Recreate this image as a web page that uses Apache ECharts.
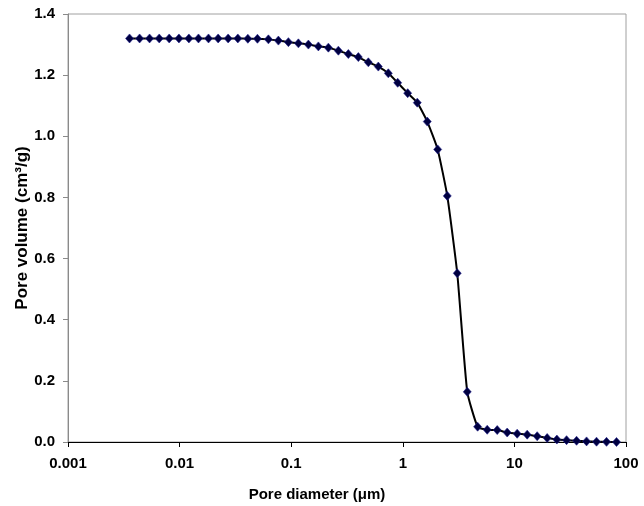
<!DOCTYPE html>
<html>
<head>
<meta charset="utf-8">
<script src="https://cdn.jsdelivr.net/npm/echarts@6/dist/echarts.min.js"></script>
<style>
  html, body { margin: 0; padding: 0; background: #fff; }
  #chart { width: 644px; height: 506px; }
</style>
</head>
<body>
<div id="chart"></div>
<script>
// pore diameter (um)
const diameters = [
  0.00356, 0.00438, 0.00538, 0.00657, 0.00807, 0.00986, 0.01211, 0.01476, 0.01815, 0.02216,
  0.02723, 0.03325, 0.04088, 0.04983, 0.06249, 0.07679, 0.09438, 0.1160, 0.1426, 0.1752,
  0.2153, 0.2646, 0.3251, 0.3996, 0.4911, 0.6035, 0.7417, 0.9000, 1.106, 1.348,
  1.657, 2.053, 2.503, 3.075, 3.780, 4.682, 5.707, 7.015, 8.620, 10.59,
  13.02, 16.00, 19.66, 24.02, 29.34, 36.06, 44.31, 54.43, 66.91, 82.21
];
// cumulative pore volume (cm3/g)
const volumes = [
  1.320, 1.320, 1.320, 1.320, 1.320, 1.320, 1.320, 1.320, 1.320, 1.320,
  1.320, 1.320, 1.319, 1.319, 1.317, 1.313, 1.308, 1.304, 1.300, 1.294,
  1.290, 1.280, 1.269, 1.259, 1.242, 1.228, 1.206, 1.175, 1.141, 1.110,
  1.048, 0.957, 0.805, 0.552, 0.164, 0.050, 0.040, 0.039, 0.031, 0.027,
  0.024, 0.019, 0.013, 0.008, 0.006, 0.004, 0.002, 0.001, 0.0005, 0.0
];
const xTickLabels = ["0.001", "0.01", "0.1", "1", "10", "100"];

(function poreChart() {
  var dom = document.getElementById("chart");
  var myChart = echarts.init(dom, null, { renderer: "canvas" });

  var font = "'Liberation Sans', Arial, sans-serif";
  var seriesData = diameters.map((d, i) => [d, volumes[i]]);

  var option = {
    animation: false,
    grid: {
      left: 68,
      top: 14,
      width: 558,
      height: 428,
      outerBoundsMode: "none",
      containLabel: false,
      show: true,
      borderColor: "#a0a0a0",
      borderWidth: 1,
    },
    xAxis: {
      type: "log",
      logBase: 10,
      min: 0.001,
      max: 100,
      name: "Pore diameter (\u03bcm)",
      nameLocation: "middle",
      nameGap: 45,
      nameTextStyle: {
        fontFamily: font,
        fontWeight: "bold",
        fontSize: 15,
        color: "#000",
        padding: [0, 60, 0, 0],
      },
      axisLine: { lineStyle: { color: "#000", width: 1 } },
      axisTick: { show: true, inside: false, length: 5, lineStyle: { color: "#000" } },
      minorTick: { show: false },
      splitLine: { show: false },
      axisLabel: {
        margin: 14,
        fontFamily: font,
        fontWeight: "bold",
        fontSize: 15,
        color: "#000",
        formatter: (value, index) => xTickLabels[index],
      },
    },
    yAxis: {
      type: "value",
      min: 0,
      max: 1.4,
      interval: 0.2,
      name: "Pore volume (cm\u00b3/g)",
      nameLocation: "middle",
      nameGap: 37,
      nameMoveOverlap: false,
      nameTextStyle: { fontFamily: font, fontWeight: "bold", fontSize: 17, color: "#000" },
      axisLine: { show: true, lineStyle: { color: "#8a8a8a", width: 1 } },
      axisTick: { show: true, inside: false, length: 5, lineStyle: { color: "#8a8a8a" } },
      splitLine: { show: false },
      axisLabel: {
        margin: 13,
        fontFamily: font,
        fontWeight: "bold",
        fontSize: 15,
        color: "#000",
        formatter: (v) => v.toFixed(1),
      },
    },
    series: [
      {
        type: "line",
        data: seriesData,
        smooth: 0.15,
        symbol: "diamond",
        symbolSize: [8, 9],
        lineStyle: { color: "#000", width: 2 },
        itemStyle: { color: "#000040", borderColor: "#202090", borderWidth: 0.6 },
      },
    ],
  };

  option && myChart.setOption(option);
})();
</script>
</body>
</html>
